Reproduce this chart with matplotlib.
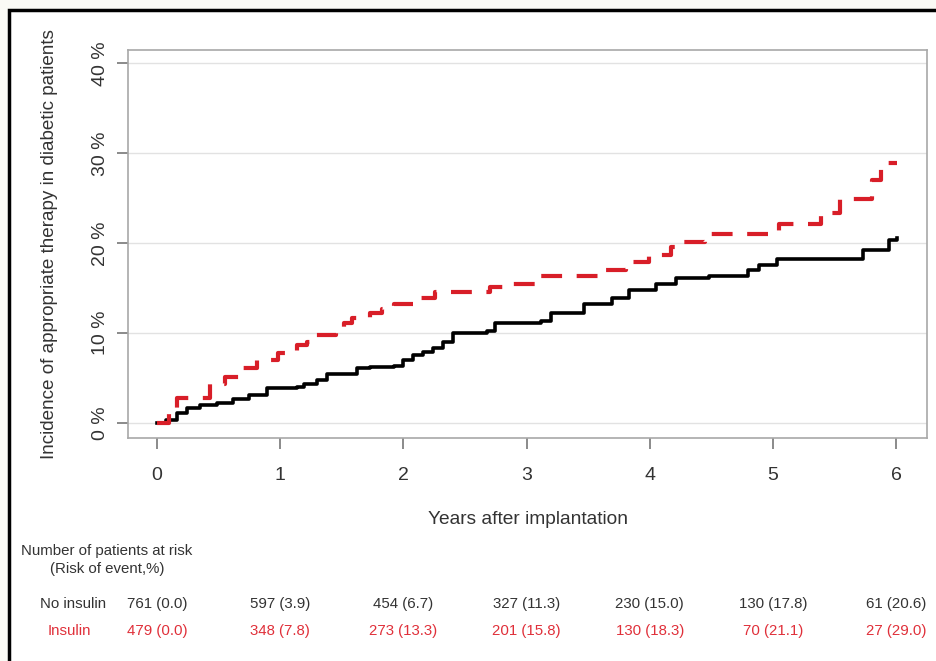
import matplotlib
matplotlib.use("Agg")
import matplotlib.pyplot as plt
from matplotlib.patches import Rectangle
from matplotlib.transforms import blended_transform_factory

# Кривые кумулятивной частоты (ступенчатые), годы / %
t_no_ins = [0.00, 0.07, 0.16, 0.24, 0.35, 0.49, 0.62, 0.75, 0.89, 1.14, 1.19, 1.30,
            1.38, 1.62, 1.73, 1.92, 2.00, 2.08, 2.16, 2.24, 2.32, 2.40, 2.68, 2.74,
            3.12, 3.20, 3.47, 3.69, 3.83, 4.05, 4.21, 4.48, 4.80, 4.89, 5.03, 5.73,
            5.94, 6.01]
y_no_ins = [0.0, 0.3, 1.1, 1.7, 2.0, 2.2, 2.7, 3.1, 3.9, 4.0, 4.4, 4.8,
            5.5, 6.1, 6.3, 6.4, 7.0, 7.6, 7.9, 8.4, 9.0, 10.0, 10.3, 11.1,
            11.4, 12.3, 13.2, 13.9, 14.8, 15.5, 16.1, 16.4, 17.0, 17.6, 18.3, 19.3,
            20.4, 20.6]

t_ins = [0.00, 0.10, 0.16, 0.43, 0.55, 0.67, 0.81, 0.98, 1.14, 1.22, 1.28, 1.45,
         1.52, 1.58, 1.73, 1.83, 1.92, 2.10, 2.26, 2.70, 2.89, 3.08, 3.64, 3.81,
         3.99, 4.17, 4.24, 4.45, 5.05, 5.39, 5.54, 5.80, 5.88, 6.01]
y_ins = [0.0, 1.7, 2.8, 4.4, 5.1, 6.1, 7.0, 7.8, 8.7, 9.0, 9.8, 10.6,
         11.1, 11.7, 12.3, 12.7, 13.2, 13.9, 14.6, 15.1, 15.5, 16.4, 17.0, 17.9,
         18.7, 19.6, 20.1, 21.0, 22.1, 23.4, 24.9, 27.0, 28.9, 28.9]

# Таблица риска
years = [0, 1, 2, 3, 4, 5, 6]
risk_no_ins = ["761 (0.0)", "597 (3.9)", "454 (6.7)", "327 (11.3)", "230 (15.0)",
               "130 (17.8)", "61 (20.6)"]
risk_ins = ["479 (0.0)", "348 (7.8)", "273 (13.3)", "201 (15.8)", "130 (18.3)",
            "70 (21.1)", "27 (29.0)"]

yticks = [0, 10, 20, 30, 40]
ytick_labels = ["0 %", "10 %", "20 %", "30 %", "40 %"]

plt.rcParams['font.family'] = ['Liberation Sans', 'DejaVu Sans']

W, H = 936, 661
fig = plt.figure(figsize=(W / 100, H / 100), dpi=100, facecolor='#fafaf5')

# внешняя рамка
fig.add_artist(Rectangle((8.5 / W, -0.1), 1.2, (H - 9.5) / H + 0.1, transform=fig.transFigure,
                         facecolor='white', edgecolor='black', lw=2.5, zorder=0))

ax = fig.add_axes([128 / W, 1 - 438 / H, (927 - 128) / W, (438 - 50) / H])
ax.set_facecolor('white')

for v in yticks:
    ax.axhline(v, color='#e2e2e2', lw=1.0, zorder=1)

ax.step(t_no_ins, y_no_ins, where='post', color='black', lw=2.6, zorder=3)
ax.step(t_ins, y_ins, where='post', color='#d81e28', lw=3.0, ls=(0, (5, 3.5)), zorder=4)

ax.set_xlim(-0.235, 6.25)
ax.set_ylim(-1.65, 41.5)

for s in ax.spines.values():
    s.set_color('#a8a8a8')
    s.set_linewidth(1.2)

ax.set_xticks(years)
ax.set_xticklabels([str(y) for y in years])
ax.set_yticks(yticks)
ax.set_yticklabels(ytick_labels, rotation=90, va='center')
ax.tick_params(axis='x', length=8, width=1.2, color='#777777', labelsize=14,
               labelcolor='#333333', pad=13)
ax.tick_params(axis='y', length=8, width=1.2, color='#777777', labelsize=14,
               labelcolor='#333333', pad=6)

ax.set_ylabel('Incidence of appropriate therapy in diabetic patients', fontsize=13.6,
              color='#333333')
ax.yaxis.set_label_coords((50 - 128) / 799, 0.5)
ax.set_xlabel('Years after implantation', fontsize=13.8, color='#333333')
ax.xaxis.set_label_coords(0.5, (438 - 520) / 388)
ax.xaxis.label.set_va('center')
ax.yaxis.label.set_va('center')

# таблица риска
fs = 10.8
tr = blended_transform_factory(ax.transData, fig.transFigure)
fig.text(107 / W, 1 - 551 / H, 'Number of patients at risk', ha='center', va='center',
         fontsize=fs, color='#333333')
fig.text(107 / W, 1 - 569 / H, '(Risk of event,%)', ha='center', va='center',
         fontsize=fs, color='#333333')
fig.text(73 / W, 1 - 604 / H, 'No insulin', ha='center', va='center', fontsize=fs,
         color='#333333')
fig.text(69 / W, 1 - 631 / H, 'Insulin', ha='center', va='center', fontsize=fs,
         color='#e0303a')
for x, a, b in zip(years, risk_no_ins, risk_ins):
    ax.text(x, 1 - 604 / H, a, transform=tr, ha='center', va='center', fontsize=fs,
            color='#333333')
    ax.text(x, 1 - 631 / H, b, transform=tr, ha='center', va='center', fontsize=fs,
            color='#e0303a')

fig.savefig('out.png', dpi=100, facecolor=fig.get_facecolor())
